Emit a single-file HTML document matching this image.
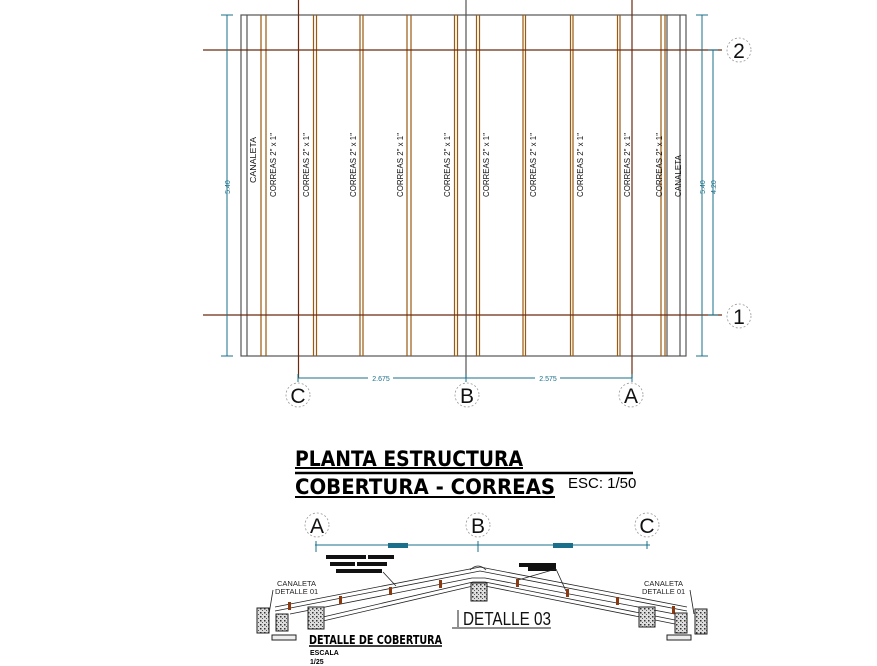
<!DOCTYPE html>
<html><head><meta charset="utf-8"><style>
html,body{margin:0;padding:0;background:#fff;}
svg{display:block;}
text{font-family:"Liberation Sans",sans-serif;}
</style></head><body>
<svg width="877" height="666" viewBox="0 0 877 666" xmlns="http://www.w3.org/2000/svg">
<defs>
<pattern id="h" width="4" height="4" patternUnits="userSpaceOnUse">
<rect width="4" height="4" fill="#ddd"/><rect x="0" y="0" width="1.5" height="1.5" fill="#333"/><rect x="2" y="2" width="1" height="1" fill="#555"/>
</pattern>
</defs>
<g stroke="#555" stroke-width="1.2" fill="none">
<rect x="241" y="15" width="445" height="341"/>
<line x1="247" y1="15" x2="247" y2="356"/>
<line x1="667" y1="15" x2="667" y2="356"/>
<line x1="680" y1="15" x2="680" y2="356"/>
</g>
<g stroke="#9a5a10" stroke-width="1.2">
<line x1="261" y1="15" x2="261" y2="356"/><line x1="266" y1="15" x2="266" y2="356"/>
<line x1="313.5" y1="15" x2="313.5" y2="356"/><line x1="316.5" y1="15" x2="316.5" y2="356"/>
<line x1="360" y1="15" x2="360" y2="356"/><line x1="363" y1="15" x2="363" y2="356"/>
<line x1="407" y1="15" x2="407" y2="356"/><line x1="411" y1="15" x2="411" y2="356"/>
<line x1="454.5" y1="15" x2="454.5" y2="356"/><line x1="457.5" y1="15" x2="457.5" y2="356"/>
<line x1="476.5" y1="15" x2="476.5" y2="356"/><line x1="479.5" y1="15" x2="479.5" y2="356"/>
<line x1="523" y1="15" x2="523" y2="356"/><line x1="525.5" y1="15" x2="525.5" y2="356"/>
<line x1="570.5" y1="15" x2="570.5" y2="356"/><line x1="573" y1="15" x2="573" y2="356"/>
<line x1="617.5" y1="15" x2="617.5" y2="356"/><line x1="620" y1="15" x2="620" y2="356"/>
<line x1="661" y1="15" x2="661" y2="356"/><line x1="665" y1="15" x2="665" y2="356"/>
</g>
<g stroke="#6b2a10" stroke-width="1.2">
<line x1="203" y1="50" x2="722" y2="50"/>
<line x1="203" y1="315" x2="722" y2="315"/>
<line x1="298.5" y1="0" x2="298.5" y2="378"/>
<line x1="632" y1="0" x2="632" y2="378"/>
</g>
<line x1="466" y1="0" x2="466" y2="378" stroke="#555" stroke-width="1.2"/>
<g stroke="#1a6f8a" stroke-width="1">
<line x1="227" y1="15" x2="227" y2="356"/>
<line x1="221" y1="15" x2="233" y2="15"/><line x1="221" y1="356" x2="233" y2="356"/>
<line x1="702" y1="15" x2="702" y2="356"/>
<line x1="696" y1="15" x2="708" y2="15"/><line x1="696" y1="356" x2="708" y2="356"/>
<line x1="713" y1="50" x2="713" y2="315"/>
<line x1="708" y1="50" x2="718" y2="50"/><line x1="708" y1="315" x2="718" y2="315"/>
<line x1="298" y1="378" x2="632" y2="378"/>
<line x1="298" y1="374" x2="298" y2="382"/><line x1="466" y1="374" x2="466" y2="382"/><line x1="632" y1="374" x2="632" y2="382"/>
</g>
<g fill="#1a6f8a" font-size="7">
<text transform="translate(230,187) rotate(-90)" text-anchor="middle">5.40</text>
<text transform="translate(705,187) rotate(-90)" text-anchor="middle">5.40</text>
<text transform="translate(716,187) rotate(-90)" text-anchor="middle">4.20</text>
<rect x="368" y="374" width="25" height="8" fill="#fff"/>
<text x="381" y="381" text-anchor="middle">2.675</text>
<rect x="535" y="374" width="25" height="8" fill="#fff"/>
<text x="548" y="381" text-anchor="middle">2.575</text>
</g>
<g font-size="8.5" fill="#111" text-anchor="middle">
<text transform="translate(256,160) rotate(-90)" textLength="46" lengthAdjust="spacingAndGlyphs">CANALETA</text>
<text transform="translate(276,165) rotate(-90)" textLength="64" lengthAdjust="spacingAndGlyphs">CORREAS 2" x 1"</text>
<text transform="translate(309,165) rotate(-90)" textLength="64" lengthAdjust="spacingAndGlyphs">CORREAS 2" x 1"</text>
<text transform="translate(356,165) rotate(-90)" textLength="64" lengthAdjust="spacingAndGlyphs">CORREAS 2" x 1"</text>
<text transform="translate(403,165) rotate(-90)" textLength="64" lengthAdjust="spacingAndGlyphs">CORREAS 2" x 1"</text>
<text transform="translate(450,165) rotate(-90)" textLength="64" lengthAdjust="spacingAndGlyphs">CORREAS 2" x 1"</text>
<text transform="translate(489,165) rotate(-90)" textLength="64" lengthAdjust="spacingAndGlyphs">CORREAS 2" x 1"</text>
<text transform="translate(536,165) rotate(-90)" textLength="64" lengthAdjust="spacingAndGlyphs">CORREAS 2" x 1"</text>
<text transform="translate(583,165) rotate(-90)" textLength="64" lengthAdjust="spacingAndGlyphs">CORREAS 2" x 1"</text>
<text transform="translate(630,165) rotate(-90)" textLength="64" lengthAdjust="spacingAndGlyphs">CORREAS 2" x 1"</text>
<text transform="translate(662,165) rotate(-90)" textLength="64" lengthAdjust="spacingAndGlyphs">CORREAS 2" x 1"</text>
<text transform="translate(681,176) rotate(-90)" textLength="42" lengthAdjust="spacingAndGlyphs">CANALETA</text>
</g>
<g fill="none" stroke="#999" stroke-width="0.8" stroke-dasharray="2,2">
<circle cx="739" cy="50" r="12"/><circle cx="739" cy="316" r="12"/>
<circle cx="298" cy="395" r="12"/><circle cx="467" cy="395" r="12"/><circle cx="631" cy="395" r="12"/>
<circle cx="317" cy="525" r="12"/><circle cx="478" cy="525" r="12"/><circle cx="647" cy="525" r="12"/>
</g>
<g font-size="21" fill="#111" text-anchor="middle">
<text x="739" y="58">2</text><text x="739" y="324">1</text>
<text x="298" y="403">C</text><text x="467" y="403">B</text><text x="631" y="403">A</text>
<text x="317" y="533">A</text><text x="478" y="533">B</text><text x="647" y="533">C</text>
</g>
<g fill="#000">
<text x="295" y="466" font-size="21" textLength="228" lengthAdjust="spacingAndGlyphs" style="font-family:'DejaVu Sans',sans-serif;font-weight:bold">PLANTA ESTRUCTURA</text>
<text x="295" y="494" font-size="21" textLength="260" lengthAdjust="spacingAndGlyphs" style="font-family:'DejaVu Sans',sans-serif;font-weight:bold">COBERTURA - CORREAS</text>
</g>
<line x1="295" y1="468" x2="523" y2="468" stroke="#000" stroke-width="2"/>
<line x1="295" y1="473" x2="633" y2="473" stroke="#000" stroke-width="2.5"/>
<line x1="295" y1="497" x2="555" y2="497" stroke="#000" stroke-width="2"/>
<text x="568" y="488" font-size="15" fill="#000">ESC: 1/50</text>
<g stroke="#1a6f8a" stroke-width="1">
<line x1="315" y1="545" x2="650" y2="545"/>
<line x1="316" y1="541" x2="316" y2="552"/><line x1="478" y1="541" x2="478" y2="552"/><line x1="647" y1="541" x2="647" y2="549"/>
</g>
<rect x="388" y="543" width="20" height="5" fill="#1a6f8a"/>
<rect x="553" y="543" width="20" height="5" fill="#1a6f8a"/>
<g fill="#111">
<rect x="326" y="555" width="40" height="4"/><rect x="368" y="555" width="26" height="4"/>
<rect x="330" y="562" width="25" height="4"/><rect x="357" y="562" width="30" height="4"/>
<rect x="336" y="569" width="46" height="4"/>
<rect x="519" y="563" width="37" height="4"/><rect x="528" y="567" width="28" height="4"/>
</g>
<g stroke="#222" stroke-width="0.8" fill="none">
<line x1="383" y1="572" x2="396" y2="586"/>
<line x1="556" y1="569" x2="518" y2="580"/><line x1="556" y1="569" x2="566" y2="591"/>
<polyline points="275,607 475,568 480,567 687,607"/>
<polyline points="275,611 475,572 480,571 687,611"/>
<polyline points="290,614 472,578 485,578 680,615"/>
<polyline points="323,617 473,582 485,582 675,620"/>
<polyline points="323,621 473,586 485,586 675,624"/>
<path d="M470,570 q8,-8 16,0"/>
<line x1="273" y1="590" x2="269" y2="614"/><line x1="690" y1="590" x2="694" y2="614"/>
</g>
<g fill="#8a3a10">
<rect x="288" y="602" width="3" height="8"/><rect x="339" y="596" width="3" height="8"/><rect x="389" y="587" width="3" height="8"/><rect x="439" y="580" width="3" height="8"/>
<rect x="516" y="579" width="3" height="8"/><rect x="566" y="589" width="3" height="8"/><rect x="616" y="597" width="3" height="8"/><rect x="672" y="606" width="3" height="8"/>
</g>
<g fill="url(#h)" stroke="#222" stroke-width="1">
<rect x="257" y="608" width="12" height="25"/><rect x="276" y="614" width="12" height="17"/><rect x="308" y="607" width="16" height="22"/>
<rect x="471" y="583" width="16" height="18"/>
<rect x="639" y="607" width="16" height="20"/><rect x="675" y="613" width="12" height="20"/><rect x="695" y="609" width="12" height="25"/>
</g>
<g fill="#eee" stroke="#222" stroke-width="1">
<rect x="272" y="635" width="24" height="5"/><rect x="667" y="635" width="24" height="5"/>
</g>
<g font-size="7.5" fill="#222">
<text x="277" y="586">CANALETA</text><text x="275" y="594">DETALLE 01</text>
<text x="644" y="586">CANALETA</text><text x="642" y="594">DETALLE 01</text>
</g>
<line x1="458" y1="610" x2="458" y2="627" stroke="#222" stroke-width="1"/>
<line x1="452" y1="628" x2="551" y2="628" stroke="#222" stroke-width="1"/>
<text x="463" y="625" font-size="18" fill="#111" textLength="88" lengthAdjust="spacingAndGlyphs">DETALLE 03</text>
<text x="309" y="644" font-size="12" font-weight="bold" fill="#000" textLength="133" lengthAdjust="spacingAndGlyphs" style="font-family:'DejaVu Sans',sans-serif">DETALLE DE COBERTURA</text>
<line x1="309" y1="646" x2="442" y2="646" stroke="#000" stroke-width="1.5"/>
<text x="310" y="655" font-size="7" font-weight="bold" fill="#000">ESCALA</text>
<text x="310" y="664" font-size="7" font-weight="bold" fill="#000">1/25</text>
</svg>
</body></html>
